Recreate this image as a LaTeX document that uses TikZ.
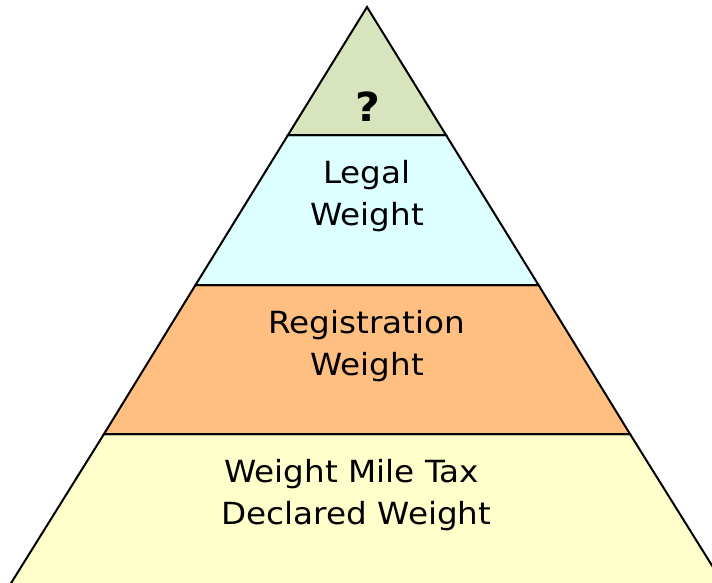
\documentclass[tikz,border=0pt]{standalone}
\usepackage{fontspec}
\setmainfont[FakeStretch=1.07]{DejaVu Sans}
\definecolor{cgreen}{HTML}{D7E4BD}
\definecolor{ccyan}{HTML}{DDFFFF}
\definecolor{corange}{HTML}{FFBF80}
\definecolor{cyellow}{HTML}{FFFFCC}
\begin{document}
\begin{tikzpicture}[x=1pt,y=-1pt,
  band/.style={draw=black,line width=2pt,line join=miter},
  lbl/.style={anchor=base,font=\fontsize{30.5}{36}\selectfont,inner sep=0pt}]
\useasboundingbox (0,0) rectangle (712,582);
\clip (0,0) rectangle (712,582);
\coordinate (apex) at (367,7);
\coordinate (l1) at (288,135); \coordinate (r1) at (446,135);
\coordinate (l2) at (195.5,285); \coordinate (r2) at (538.5,285);
\coordinate (l3) at (104,434); \coordinate (r3) at (630,434);
\coordinate (l5) at (8,588); \coordinate (r5) at (726,588);
\filldraw[band,fill=cyellow] (l3) -- (r3) -- (r5) -- (l5) -- cycle;
\filldraw[band,fill=corange] (l2) -- (r2) -- (r3) -- (l3) -- cycle;
\filldraw[band,fill=ccyan] (l1) -- (r1) -- (r2) -- (l2) -- cycle;
\filldraw[band,fill=cgreen] (apex) -- (r1) -- (l1) -- cycle;
\node[lbl,font=\fontsize{40}{44}\selectfont\bfseries] (q) at (368,121) {?};
\node[lbl] (t1) at (367,183) {Legal};
\node[lbl] (t2) at (367,225) {Weight};
\node[lbl] (t3) at (367,333) {Registration};
\node[lbl] (t4) at (367,375) {Weight};
\node[lbl] (t5) at (351.5,482) {Weight Mile Tax};
\node[lbl] (t6) at (356.5,524) {Declared Weight};
\end{tikzpicture}
\end{document}
